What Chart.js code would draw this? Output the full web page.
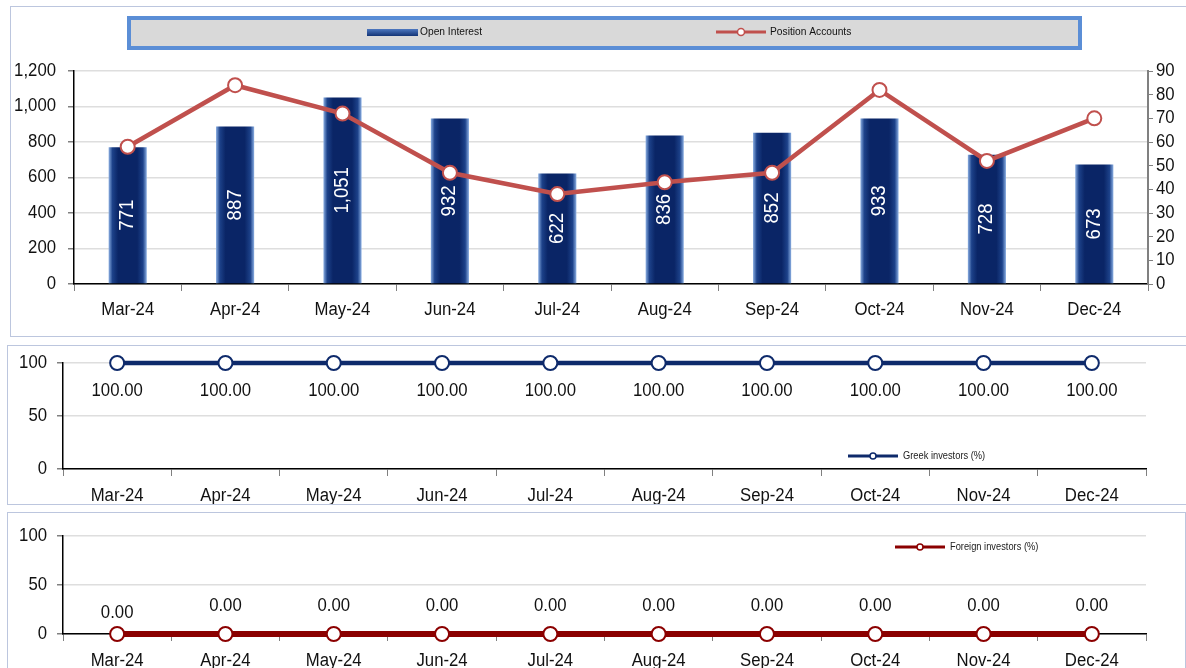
<!DOCTYPE html>
<html><head><meta charset="utf-8">
<script src="https://cdn.jsdelivr.net/npm/chart.js@4.4.1/dist/chart.umd.min.js"></script>
<style>
html,body{margin:0;padding:0;background:#fff;width:1186px;height:668px;overflow:hidden;}
.panel{position:absolute;border:1.5px solid #bcc6de;box-sizing:border-box;}
.wrap{position:absolute;}
</style></head><body>
<div class="panel" style="left:10px;top:6px;width:1190px;height:331px"></div>
<div class="panel" style="left:7px;top:345px;width:1180px;height:160px"></div>
<div class="panel" style="left:7px;top:512px;width:1179px;height:175px"></div>
<div class="wrap" style="left:10px;top:6px;width:1176px;height:330px"><canvas id="c1"></canvas></div>
<div class="wrap" style="left:7px;top:346px;width:1179px;height:158px"><canvas id="c2"></canvas></div>
<div class="wrap" style="left:7px;top:513px;width:1179px;height:155px"><canvas id="c3"></canvas></div>
<script>
// ---- data ----
const months = ['Mar-24','Apr-24','May-24','Jun-24','Jul-24','Aug-24','Sep-24','Oct-24','Nov-24','Dec-24'];
const openInterest = [771, 887, 1051, 932, 622, 836, 852, 933, 728, 673];
const positionAccounts = [58, 84, 72, 47, 38, 43, 47, 82, 52, 70];
const greekPct = [100, 100, 100, 100, 100, 100, 100, 100, 100, 100];
const foreignPct = [0, 0, 0, 0, 0, 0, 0, 0, 0, 0];
const seriesNames = ['Open Interest', 'Position Accounts', 'Greek investors (%)', 'Foreign investors (%)'];

const FONT = "'Liberation Sans', Arial, sans-serif";
// slightly condensed text rendering (the original uses a narrow typeface)
const NARROW = 0.93;
const _fill = CanvasRenderingContext2D.prototype.fillText;
CanvasRenderingContext2D.prototype.fillText = function (t, x, y, mw) {
  this.save();
  this.translate(x, y);
  this.scale(NARROW, 1);
  _fill.call(this, t, 0, 0);
  this.restore();
};

Chart.defaults.font.family = FONT;
Chart.defaults.color = '#111';
Chart.defaults.animation = false;

const fmt = v => Number(v).toLocaleString('en-US');
const noVPad = s => { s.paddingTop = 0; s.paddingBottom = 0; };

// ---------- chart 1 ----------
function barFill(c) {
  const el = c.chart.getDatasetMeta(c.datasetIndex).data[c.dataIndex];
  if (!el || el.x == null || isNaN(el.x)) return '#0b2a6b';
  const w = el.width || 38;
  const g = c.chart.ctx.createLinearGradient(el.x - w / 2, 0, el.x + w / 2, 0);
  g.addColorStop(0, '#8aaee2');
  g.addColorStop(0.1, '#1d428a');
  g.addColorStop(0.25, '#0a2566');
  g.addColorStop(0.75, '#0a2566');
  g.addColorStop(0.9, '#1d428a');
  g.addColorStop(1, '#8aaee2');
  return g;
}

const barLabels = {
  id: 'barLabels',
  afterDatasetDraw(chart, args) {
    if (args.index !== 0) return;
    const ctx = chart.ctx;
    ctx.save();
    ctx.fillStyle = '#fff';
    ctx.font = '20px ' + FONT;
    ctx.textAlign = 'center';
    ctx.textBaseline = 'middle';
    args.meta.data.forEach((bar, i) => {
      ctx.save();
      ctx.translate(bar.x, (bar.y + bar.base) / 2);
      ctx.rotate(-Math.PI / 2);
      ctx.fillText(fmt(chart.data.datasets[0].data[i]), 0, 0);
      ctx.restore();
    });
    ctx.restore();
  }
};

const topLegend = {
  id: 'topLegend',
  beforeDraw(chart) {
    const ctx = chart.ctx;
    ctx.save();
    ctx.fillStyle = '#d9d9d9';
    ctx.fillRect(117, 10, 955, 34);
    ctx.strokeStyle = '#5b8ed6';
    ctx.lineWidth = 4;
    ctx.strokeRect(119, 12, 951, 30);
    ctx.restore();
  },
  afterDraw(chart) {
    const ctx = chart.ctx;
    ctx.save();
    const g = ctx.createLinearGradient(0, 23, 0, 31);
    g.addColorStop(0, '#4d78c0'); g.addColorStop(1, '#0b2a6b');
    ctx.fillStyle = g;
    ctx.fillRect(357, 23, 51, 7);
    ctx.font = '11px ' + FONT;
    ctx.fillStyle = '#111';
    ctx.textBaseline = 'middle';
    ctx.fillText(chart.data.datasets[0].label, 410, 26);
    ctx.strokeStyle = '#c0504d'; ctx.lineWidth = 3;
    ctx.beginPath(); ctx.moveTo(706, 26); ctx.lineTo(756, 26); ctx.stroke();
    ctx.fillStyle = '#fff'; ctx.lineWidth = 1.5;
    ctx.beginPath(); ctx.arc(731, 26, 3.5, 0, Math.PI * 2); ctx.fill(); ctx.stroke();
    ctx.fillStyle = '#111';
    ctx.fillText(chart.data.datasets[1].label, 760, 26);
    ctx.restore();
  }
};

const c1 = new Chart(document.getElementById('c1'), {
  data: {
    labels: months,
    datasets: [
      { type: 'bar', label: seriesNames[0], data: openInterest, yAxisID: 'y', order: 2,
        backgroundColor: barFill, borderWidth: 0, categoryPercentage: 1, barPercentage: 0.355 },
      { type: 'line', label: seriesNames[1], data: positionAccounts, yAxisID: 'y1', order: 1,
        borderColor: '#c0504d', borderWidth: 4.5, pointRadius: 7, pointBorderWidth: 2,
        pointBackgroundColor: '#fff', pointBorderColor: '#c0504d', tension: 0 }
    ]
  },
  options: {
    responsive: true, maintainAspectRatio: false,
    layout: { padding: { top: 65, left: 0, right: 0, bottom: 0 } },
    plugins: { legend: { display: false }, tooltip: { enabled: false } },
    scales: {
      x: {
        offset: true,
        grid: { display: true, offset: true, drawOnChartArea: false, tickLength: 7, tickColor: '#808080' },
        border: { color: '#000', width: 1.5 },
        ticks: { font: { size: 18 }, color: '#111', padding: 8, maxRotation: 0 },
        afterFit: s => { s.height = 52; }
      },
      y: {
        position: 'left', min: 0, max: 1200,
        ticks: { stepSize: 200, autoSkip: false, callback: v => fmt(v), font: { size: 18 }, color: '#111', padding: 12 },
        grid: { color: '#dedede', lineWidth: 1.5, tickLength: 6, tickColor: '#808080' },
        border: { color: '#000', width: 1.5 },
        afterFit: s => { s.width = 64; noVPad(s); }
      },
      y1: {
        position: 'right', min: 0, max: 90,
        ticks: { stepSize: 10, autoSkip: false, font: { size: 18 }, color: '#111', padding: 3 },
        grid: { drawOnChartArea: false, tickLength: 5, tickColor: '#808080' },
        border: { color: '#808080', width: 2 },
        afterFit: s => { s.width = 38; noVPad(s); }
      }
    }
  },
  plugins: [topLegend, barLabels]
});
c1.update('none');

// ---------- small charts ----------
function pointLabels(offsetFn) {
  return {
    id: 'pointLabels',
    afterDatasetsDraw(chart) {
      const ctx = chart.ctx;
      const meta = chart.getDatasetMeta(0);
      ctx.save();
      ctx.font = '18px ' + FONT;
      ctx.fillStyle = '#111';
      ctx.textAlign = 'center';
      ctx.textBaseline = 'middle';
      meta.data.forEach((p, i) => {
        ctx.fillText(Number(chart.data.datasets[0].data[i]).toFixed(2), p.x, p.y + offsetFn(i));
      });
      ctx.restore();
    }
  };
}
function smallLegend(x, y, color) {
  return {
    id: 'smallLegend',
    afterDraw(chart) {
      const ctx = chart.ctx;
      ctx.save();
      ctx.strokeStyle = color; ctx.lineWidth = 3;
      ctx.beginPath(); ctx.moveTo(x, y); ctx.lineTo(x + 50, y); ctx.stroke();
      ctx.fillStyle = '#fff'; ctx.lineWidth = 1.5;
      ctx.beginPath(); ctx.arc(x + 25, y, 3, 0, Math.PI * 2); ctx.fill(); ctx.stroke();
      ctx.font = '10px ' + FONT;
      ctx.fillStyle = '#222';
      ctx.textBaseline = 'middle';
      ctx.fillText(chart.data.datasets[0].label, x + 55, y);
      ctx.restore();
    }
  };
}
function smallChart(id, label, data, color, lw, topPad, xh, xpad, extraPlugins) {
  return new Chart(document.getElementById(id), {
    type: 'line',
    data: { labels: months, datasets: [{ label, data, borderColor: color, borderWidth: lw,
      pointRadius: 7, pointBorderWidth: 2, pointBackgroundColor: '#fff', pointBorderColor: color,
      tension: 0, clip: false }] },
    options: {
      responsive: true, maintainAspectRatio: false,
      layout: { padding: { top: topPad, left: 0, right: 40, bottom: 0 } },
      plugins: { legend: { display: false }, tooltip: { enabled: false } },
      scales: {
        x: {
          offset: true,
          grid: { display: true, offset: true, drawOnChartArea: false, tickLength: 7, tickColor: '#808080' },
          border: { color: '#000', width: 1.5 },
          ticks: { font: { size: 18 }, color: '#111', padding: xpad, maxRotation: 0 },
          afterFit: s => { s.height = xh; }
        },
        y: {
          min: 0, max: 100,
          ticks: { stepSize: 50, autoSkip: false, font: { size: 18 }, color: '#111', padding: 10 },
          grid: { color: '#dedede', lineWidth: 1.5, tickLength: 6, tickColor: '#808080' },
          border: { color: '#000', width: 1.5 },
          afterFit: s => { s.width = 56; noVPad(s); }
        }
      }
    },
    plugins: extraPlugins
  });
}

smallChart('c2', seriesNames[2], greekPct, '#0e2a6b', 4.5, 17, 35, 9,
  [pointLabels(i => 28), smallLegend(841, 110, '#0e2a6b')]);
smallChart('c3', seriesNames[3], foreignPct, '#8b0000', 6, 23, 34, 9,
  [pointLabels(i => i === 0 ? -21 : -28), smallLegend(888, 34, '#8b0000')]);
</script>
</body></html>
